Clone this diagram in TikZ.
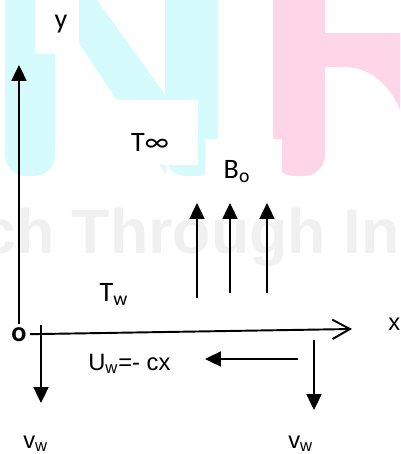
\documentclass[tikz,border=0pt]{standalone}
\usepackage{fontspec}
\setmainfont{Carlito}
\newfontfamily\arialfont{Liberation Sans}
\usepackage{xcolor}
\usepackage{tikz}
\usetikzlibrary{arrows.meta, positioning}

\definecolor{markcyan}{RGB}{213,251,252}
\definecolor{markpink}{RGB}{255,213,232}
\definecolor{markgray}{RGB}{240,240,240}

\begin{document}
\begin{tikzpicture}[x=0.02cm, y=-0.02cm, >={Triangle[length=9pt,width=8.5pt]},
    axis/.style={line width=1.1pt},
    calib/.style={font=\fontsize{16}{18}\selectfont, inner sep=0pt},
    arial/.style={font=\arialfont\fontsize{13.5}{15}\selectfont, inner sep=0pt}]
\useasboundingbox (0,0) rectangle (400,454);
% Watermark
\begin{scope}
\clip (0,0) rectangle (400,454);
\fill[markcyan, rounded corners=12pt] (5,-30) -- (5,176) -- (55,176) -- (55,-30) -- cycle;
\fill[markcyan] (50,0) -- (97,0) -- (166,96) -- (166,174) -- cycle;
\fill[markcyan, rounded corners=12pt] (165,-30) -- (165,176) -- (218,176) -- (218,-30) -- cycle;
\fill[markpink, rounded corners=12pt] (273,-30) -- (273,176) -- (325,176) -- (325,-30) -- cycle;
\fill[markpink] (320,33) -- (400,33) -- (400,110) .. controls (392,90) and (375,68) .. (345,67) -- (320,67) -- cycle;
\node[markgray, font=\arialfont\bfseries\fontsize{35.7}{36}\selectfont, inner sep=0pt, anchor=base west] (mark) at (-19,253) {ch Through In};
\end{scope}
% Label boxes
\fill[white] (35,0) rectangle (79,54);
\fill[white] (100,100) rectangle (198,165);
\fill[white] (205,139) rectangle (282,190);
% Labels
\node[calib, anchor=base] (ylab) at (61,28) {y};
\node[calib, anchor=base] (tinf) at (150,151) {T∞};
\node[calib, anchor=base] (bo) at (237,178) {B\textsubscript{o}};
\node[calib, anchor=base] (tw) at (114,301) {T\textsubscript{w}};
\node[calib, font=\bfseries\fontsize{16}{18}\selectfont, anchor=base, outer sep=2pt] (o) at (19,341) {o};
\node[arial, anchor=base west] (xlab) at (388,330) {x};
\node[arial, anchor=base west] (uw) at (88,370) {U\textsubscript{w}=- cx};
\node[arial, anchor=base west] (vwl) at (23,448) {v\textsubscript{w}};
\node[arial, anchor=base west] (vwr) at (288,448) {v\textsubscript{w}};
% Axes
\coordinate (ytip) at (19,65);
\coordinate (xtip) at (352,329);
\draw[axis, ->] (o.north) -- (ytip);
\draw[axis, -{Straight Barb[length=10pt,width=11pt]}] (o.east) -- (xtip);
% Magnetic field
\foreach \i/\x/\b in {1/197/298, 2/230/293, 3/267/293} {
    \coordinate (bs\i) at (\x,\b);
    \coordinate (bt\i) at (\x,203);
    \draw[axis, ->] (bs\i) -- (bt\i);
}
% Wall velocities
\coordinate (vs1) at (41,325);
\coordinate (vt1) at (41,403);
\coordinate (vs2) at (314,340);
\coordinate (vt2) at (314,410);
\coordinate (us) at (298,359);
\coordinate (ut) at (205,359);
\draw[axis, ->] (vs1) -- (vt1);
\draw[axis, ->] (vs2) -- (vt2);
\draw[axis, ->] (us) -- (ut);
\end{tikzpicture}
\end{document}
